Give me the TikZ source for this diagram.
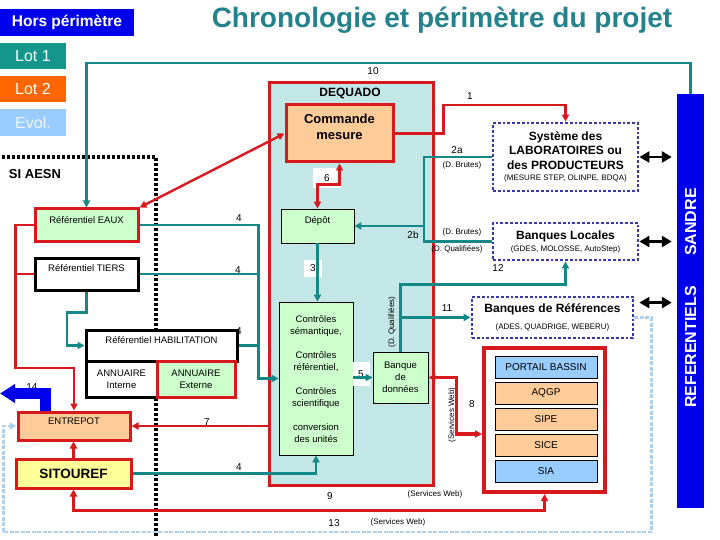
\documentclass[tikz,border=0pt]{standalone}
\usepackage{fontspec}
\setmainfont{Liberation Sans}
\usepackage{tikz}
\usetikzlibrary{arrows.meta}
\definecolor{myteal}{RGB}{20,135,135}
\definecolor{myred}{RGB}{215,25,30}
\definecolor{myblue}{RGB}{0,0,235}
\definecolor{mydots}{RGB}{55,55,175}
\definecolor{myaqua}{RGB}{195,230,230}
\definecolor{mygreen}{RGB}{204,255,204}
\definecolor{myorange}{RGB}{255,204,153}
\definecolor{myyellow}{RGB}{255,255,153}
\definecolor{mysky}{RGB}{153,204,255}
\definecolor{mypale}{RGB}{175,208,235}
\definecolor{mylotone}{RGB}{20,150,140}
\definecolor{mylottwo}{RGB}{255,102,0}
\definecolor{mytitle}{RGB}{35,130,140}
\newcommand{\fsz}[2]{\fontsize{#1}{#2}\selectfont}
\tikzset{
  box/.style={rectangle, draw=black, inner sep=2pt, align=center,
    font=\fsz{9.5}{12}},
  thinbox/.style={box, fill=mygreen, line width=0.8pt},
  blackbox/.style={box, fill=white, line width=3pt},
  redbox/.style={box, draw=myred, line width=3pt},
  dotbox/.style={rectangle, draw=mydots, fill=white, align=center,
    line width=2.8pt, dash pattern=on 2.8pt off 2pt, inner sep=2pt},
  appbox/.style={box, line width=1pt, minimum width=102pt,
    minimum height=22pt, font=\fsz{10}{12}},
  legend/.style={rectangle, inner sep=0pt, text=white, font=\fsz{16}{18}},
  num/.style={font=\fsz{10}{12}, inner sep=1pt},
  tag/.style={font=\fsz{8}{10}, inner sep=1pt},
  tealline/.style={draw=myteal, line width=2.4pt},
  redline/.style={draw=myred, line width=2.4pt},
  siline/.style={draw=black, line width=3.2pt, dash pattern=on 3pt off 2pt},
  paleline/.style={draw=mypale, line width=2.2pt, dash pattern=on 4pt off 1.5pt},
  dblarrow/.style={draw=black, line width=2.6pt,
    {Triangle[length=10pt,width=11pt]}-{Triangle[length=10pt,width=11pt]}},
  bluearrow/.style={draw=myblue, line width=11pt,
    -{Triangle[length=15pt,width=18pt]}}
}
\begin{document}
\begin{tikzpicture}[x=1pt, y=-1pt, >={Triangle[length=7pt,width=7pt]}]
  \useasboundingbox (0,0) rectangle (720,540);
  % legend and title
  \node[legend, fill=myblue, minimum width=134pt, minimum height=27pt,
    font=\fsz{15.5}{17}\bfseries] (hors) at (67,22.5) {Hors périmètre};
  \node[legend, fill=mylotone, minimum width=66pt, minimum height=26pt] (lotone) at (33,56) {Lot 1};
  \node[legend, fill=mylottwo, minimum width=66pt, minimum height=26pt] (lottwo) at (33,89) {Lot 2};
  \node[legend, fill=mysky, text=white!85!mysky, minimum width=66pt, minimum height=27pt] (evol) at (33,122.5) {Evol.};
  \node[font=\fsz{28}{30}\bfseries, text=mytitle] (title) at (442,20) {Chronologie et périmètre du projet};

  % SI AESN frontier
  \draw[siline] (2,157) -- (156,157) -- (156,537);
  \node[font=\fsz{13}{15}\bfseries] (siaesn) at (35,174) {SI AESN};

  % SANDRE / REFERENTIELS bar
  \node[fill=myblue, minimum width=27pt, minimum height=414pt, inner sep=0pt] (bar) at (690.5,301) {};
  \node[rotate=90, text=white, font=\fsz{16}{18}\bfseries] (sandre) at (690.5,222) {SANDRE};
  \node[rotate=90, text=white, font=\fsz{16}{18}\bfseries] (referentiels) at (690.5,347) {REFERENTIELS};

  % DEQUADO
  \node[redbox, fill=myaqua, minimum width=164pt, minimum height=402pt] (dequado) at (351,284) {};
  \node[font=\fsz{12}{14}\bfseries] (dequadotitle) at (350,93) {DEQUADO};
  \node[redbox, fill=myorange, minimum width=107pt, minimum height=57pt,
    font=\fsz{13}{16}\bfseries] (commande) at (339.5,133.5) {Commande\\mesure\\[-2pt]\mbox{}};
  \node[thinbox, minimum width=73pt, minimum height=34pt, text height=7pt,
    text depth=12.2pt] (depot) at (317.5,226) {Dépôt};
  \node[thinbox, minimum width=74pt, minimum height=153pt] (controles) at (316,378.5)
    {\mbox{}\\[-3pt]Contrôles\\sémantique,\\[12pt]Contrôles\\référentiel,\\[12pt]Contrôles\\scientifique\\[12pt]conversion\\des unités};
  \node[thinbox, minimum width=55pt, minimum height=51pt] (donnees) at (400.5,377.5) {Banque\\de\\données};

  % SI AESN boxes
  \node[redbox, fill=mygreen, minimum width=103pt, minimum height=32pt, text height=7pt,
    text depth=10.2pt] (eaux) at (86.5,225) {Référentiel EAUX};
  \node[blackbox, minimum width=103pt, minimum height=32pt, text height=7pt,
    text depth=12.2pt] (tiers) at (86.5,274) {Référentiel TIERS};
  \node[blackbox, minimum width=151pt, minimum height=31pt, text height=7pt,
    text depth=11.2pt] (habil) at (161.5,345.5) {Référentiel HABILITATION};
  \node[blackbox, minimum width=71pt, minimum height=36pt] (interne) at (121.5,379) {ANNUAIRE\\Interne};
  \node[redbox, fill=mygreen, minimum width=78pt, minimum height=36pt] (externe) at (196,379) {ANNUAIRE\\Externe};
  \node[redbox, fill=myorange, minimum width=112pt, minimum height=28pt, text height=7pt,
    text depth=10.2pt] (entrepot) at (74,426) {ENTREPOT};
  \node[redbox, fill=myyellow, minimum width=115pt, minimum height=29pt,
    font=\fsz{13.5}{15}\bfseries] (sitouref) at (73.5,473.5) {SITOUREF};

  % outside systems
  \node[dotbox, minimum width=145pt, minimum height=68pt, font=\fsz{12}{14.5}\bfseries] (systeme) at (565.5,157)
    {Système des\\LABORATOIRES ou\\des PRODUCTEURS\\[-3pt]{\mdseries\fsz{8}{10}(MESURE STEP, OLINPE, BDQA)}};
  \node[dotbox, minimum width=145pt, minimum height=37pt, font=\fsz{12}{12}\bfseries] (locales) at (565.5,241.5)
    {Banques Locales\\{\mdseries\fsz{8}{10}(GDES, MOLOSSE, AutoStep)}};
  \node[dotbox, minimum width=161pt, minimum height=41pt, font=\fsz{12}{12}\bfseries] (refs) at (552.5,317.5)
    {Banques de Références\\[5pt]{\mdseries\fsz{8}{10}(ADES, QUADRIGE, WEBERU)}};

  % portail
  \node[box, draw=myred, line width=4pt, fill=white, minimum width=121pt, minimum height=144pt] (portail) at (544.5,420) {};
  \node[appbox, fill=mysky] (bassin) at (546,367) {PORTAIL BASSIN};
  \node[appbox, fill=myorange] (aqgp) at (546,393) {AQGP};
  \node[appbox, fill=myorange] (sipe) at (546,419) {SIPE};
  \node[appbox, fill=myorange] (sice) at (546,445) {SICE};
  \node[appbox, fill=mysky] (sia) at (546,471) {SIA};

  % labels
  \node[num] (n10) at (373,71) {10};
  \node[num] (n1) at (470,96) {1};
  \node[num, fill=white, minimum width=28pt, minimum height=20pt] (n6) at (327,178) {6};
  \node[num, fill=white, minimum width=18pt, minimum height=17pt] (n3) at (313,268) {3};
  \node[num, fill=white, minimum width=17pt, minimum height=24pt] (n5) at (361,374) {5};
  \node[num] (n2a) at (457,150) {2a};
  \node[tag] (brutesa) at (462,165) {(D. Brutes)};
  \node[num] (n2b) at (413,235) {2b};
  \node[tag] (brutesb) at (462,232) {(D. Brutes)};
  \node[tag] (qualif) at (457,249) {(D. Qualifiées)};
  \node[num] (n12) at (498,268) {12};
  \node[num] (n11) at (447,308) {11};
  \node[tag, rotate=90] (qualifv) at (392,322) {(D. Qualifiées)};
  \node[num] (n8) at (472,404) {8};
  \node[tag, rotate=90] (webv) at (452,415) {(Services Web)};
  \node[num] (n9) at (330,496) {9};
  \node[tag] (webnine) at (435,494) {(Services Web)};
  \node[num] (n13) at (334,523) {13};
  \node[tag] (webthirteen) at (398,522) {(Services Web)};
  \node[num] (n4a) at (239,218) {4};
  \node[num] (n4b) at (238,270) {4};
  \node[num] (n4c) at (239,331) {4};
  \node[num] (n4d) at (239,467) {4};
  \node[num] (n7) at (207,422) {7};
  \node[num] (n14) at (32,387) {14};

  % teal flows
  \draw[tealline,->] (bar.north) -- ++(0,-31) -| (eaux.north);
  \draw[tealline,->] (systeme.west) -| (424,226) -- (depot.east);
  \draw[tealline] (locales.west) -| (424,226);
  \draw[tealline,->] (depot.south) -- (depot.south |- controles.north);
  \draw[tealline,->] (controles.east |- donnees.west) -- (donnees.west);
  \draw[tealline,->] (donnees.north) -- ++(0,-67) -| (locales.south);
  \draw[tealline,->] (donnees.north |- refs.west) -- (refs.west);
  \draw[tealline,->] (eaux.east) -- ++(119,0) |- (controles.west);
  \draw[tealline] (tiers.east) -- ++(119,0);
  \draw[tealline] (habil.east) -- ++(20,0);
  \draw[tealline,->] (tiers.south) -- ++(0,21) -- ++(-19.5,0) |- (habil.west);
  \draw[tealline,->] (sitouref.east) -| (controles.south);

  % red flows
  \draw[redline,<->] (eaux.north east) -- (commande.west);
  \draw[redline,->] (commande.east) -- ++(49,0) -- ++(0,-28.5) -| (systeme.north);
  \draw[redline,<->] (depot.north) -- ++(0,-24) -| (commande.south);
  \draw[redline,->] (eaux.west) -- ++(-18,0) -- ++(0,143) -| (entrepot.north);
  \draw[redline] (tiers.west) -- ++(-18,0);
  \draw[redline,->] (sitouref.north) -- (sitouref.north |- entrepot.south);
  \draw[redline,->] (dequado.west |- entrepot.east) -- (entrepot.east);
  \draw[redline,<->] (sitouref.south) -- ++(0,21) -| (portail.south);
  \draw[redline, line width=3.5pt,<->] (donnees.east) -- ++(28,0) |- ([yshift=-14pt]portail.west);

  % web services and exchanges
  \draw[paleline,->] (refs.east) -- ++(17,0) -- ++(0,214.5) -- ++(-648,0) |- (entrepot.west);
  \draw[bluearrow] ([xshift=-28.5pt]entrepot.north) -- ++(0,-17) -- ++(-45.5,0);
  \draw[dblarrow] (systeme.east) -- ([xshift=-5pt]systeme.east -| bar.west);
  \draw[dblarrow] (locales.east) -- ([xshift=-5pt]locales.east -| bar.west);
  \draw[dblarrow] ([xshift=5pt,yshift=-7pt]refs.north east) -- ([xshift=-5pt,yshift=-7pt]refs.north east -| bar.west);
\end{tikzpicture}
\end{document}
